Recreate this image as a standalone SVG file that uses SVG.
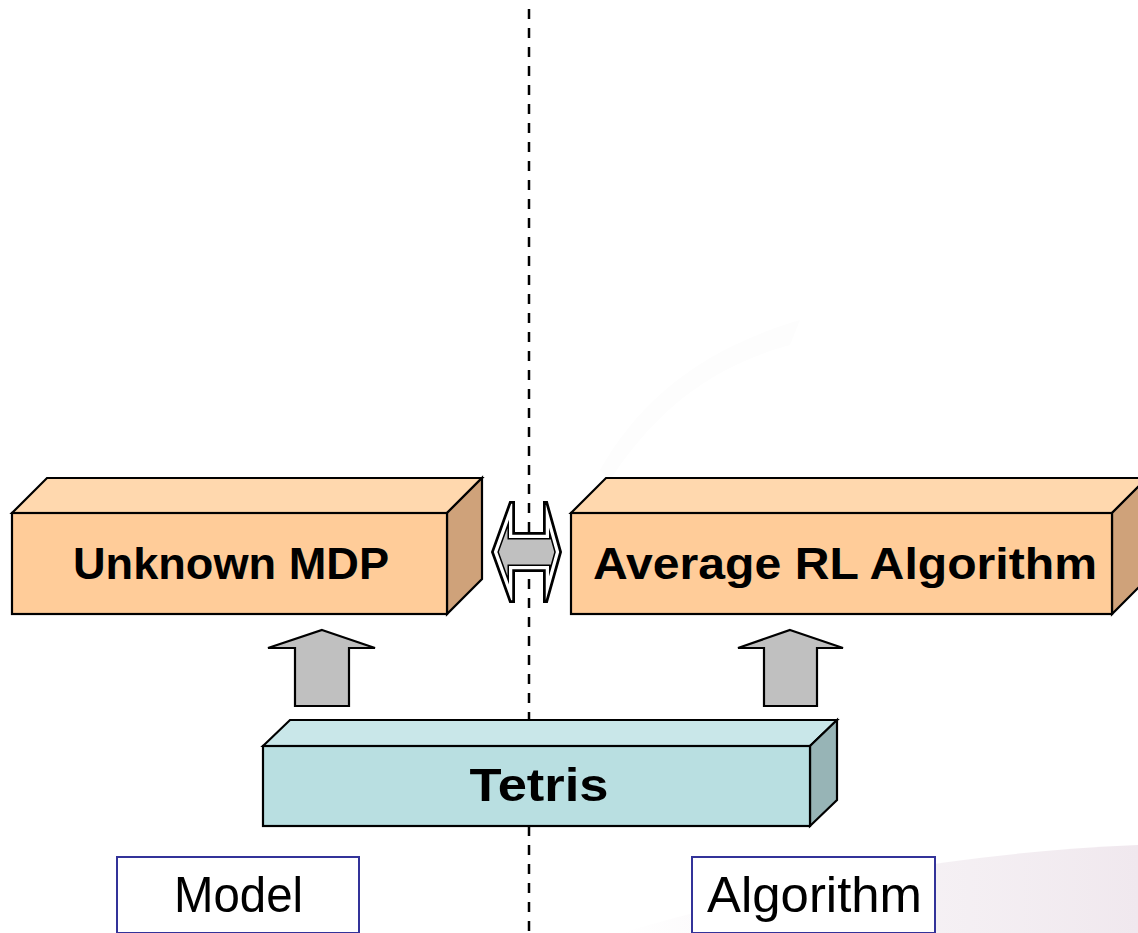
<svg xmlns="http://www.w3.org/2000/svg" xmlns:xlink="http://www.w3.org/1999/xlink" width="1138" height="933" viewBox="0 0 1138 933">
  <style>
    .edge{stroke:#000;stroke-width:2.2;stroke-linejoin:miter}
    .of{fill:#FFCC99}.ot{fill:#FFD8AE}.or{fill:#CFA27A}
    .tf{fill:#B9DFE1}.tt{fill:#C9E7E9}.tr{fill:#97B4B6}
    .lbl{font-family:"Comic Sans MS","Liberation Sans",Arial,sans-serif;font-weight:bold;fill:#000;text-anchor:middle}
    .cap{font-family:"Comic Sans MS","Liberation Sans",Arial,sans-serif;fill:#000;text-anchor:middle}
    .tag{fill:#fff;stroke:#333399;stroke-width:2}
    .up{fill:#C0C0C0;stroke:#000;stroke-width:2.2;stroke-linejoin:miter}
  </style>
  <defs>
    <linearGradient id="swoosh" x1="0" y1="0" x2="1" y2="0">
      <stop offset="0" stop-color="#f3eef2" stop-opacity="0"/>
      <stop offset="0.45" stop-color="#f3eef2" stop-opacity="0.7"/>
      <stop offset="1" stop-color="#f0e8ee" stop-opacity="1"/>
    </linearGradient>
    <path id="dbl" d="M492,552 L510,502 L514,502 L514,533 L544,533 L544,502 L547,502 L561,552 L547,602 L544,602 L544,571 L514,571 L514,602 L510,602 Z"/>
    <clipPath id="dblclip"><use xlink:href="#dbl"/></clipPath>
  </defs>
  <rect width="1138" height="933" fill="#fff"/>
  <g id="background">
    <path d="M600,470 C640,400 700,350 800,320 L790,345 C700,370 650,420 610,480 Z" fill="#fdfdfd"/>
    <path d="M620,933 C720,905 900,855 1138,845 L1138,933 Z" fill="url(#swoosh)"/>
  </g>
  <g id="divider">
    <line x1="529" y1="9" x2="529" y2="933" stroke="#000" stroke-width="2.5" stroke-dasharray="10 9"/>
  </g>
  <g id="node-unknown-mdp">
    <polygon class="ot edge" points="12,513 47,478 482,478 447,513"/>
    <polygon class="or edge" points="447,513 482,478 482,579 447,614"/>
    <rect class="of edge" x="12" y="513" width="435" height="101"/>
    <text class="lbl" x="231" y="579" font-size="45" textLength="316" lengthAdjust="spacingAndGlyphs">Unknown MDP</text>
  </g>
  <g id="node-average-rl">
    <polygon class="ot edge" points="571,513 606,478 1147,478 1112,513"/>
    <polygon class="or edge" points="1112,513 1147,478 1147,579 1112,614"/>
    <rect class="of edge" x="571" y="513" width="541" height="101"/>
    <text class="lbl" x="845" y="579" font-size="45" textLength="504" lengthAdjust="spacingAndGlyphs">Average RL Algorithm</text>
  </g>
  <g id="node-tetris">
    <polygon class="tt edge" points="263,746 290,720 837,720 810,746"/>
    <polygon class="tr edge" points="810,746 837,720 837,800 810,826"/>
    <rect class="tf edge" x="263" y="746" width="547" height="80"/>
    <text class="lbl" x="539" y="801" font-size="46" textLength="139" lengthAdjust="spacingAndGlyphs">Tetris</text>
  </g>
  <g id="node-model">
    <rect class="tag" x="117" y="857" width="242" height="76"/>
    <text class="cap" x="238.5" y="912" font-size="50" textLength="129" lengthAdjust="spacingAndGlyphs">Model</text>
  </g>
  <g id="node-algorithm">
    <rect class="tag" x="692" y="857" width="243" height="76"/>
    <text class="cap" x="814.5" y="912" font-size="50" textLength="215" lengthAdjust="spacingAndGlyphs">Algorithm</text>
  </g>
  <g id="connectors">
    <polygon class="up" points="322,630 375,648 349,648 349,706 295,706 295,648 268,648"/>
    <polygon class="up" points="790,630 843,648 817,648 817,706 764,706 764,648 738,648"/>
    <g id="double-arrow">
      <use xlink:href="#dbl" fill="#C0C0C0"/>
      <use xlink:href="#dbl" fill="none" stroke="#000" stroke-width="13" clip-path="url(#dblclip)"/>
      <use xlink:href="#dbl" fill="none" stroke="#fff" stroke-width="10" clip-path="url(#dblclip)"/>
      <use xlink:href="#dbl" fill="none" stroke="#000" stroke-width="3.5" clip-path="url(#dblclip)"/>
      <use xlink:href="#dbl" fill="none" stroke="#000" stroke-width="2"/>
    </g>
  </g>
</svg>
